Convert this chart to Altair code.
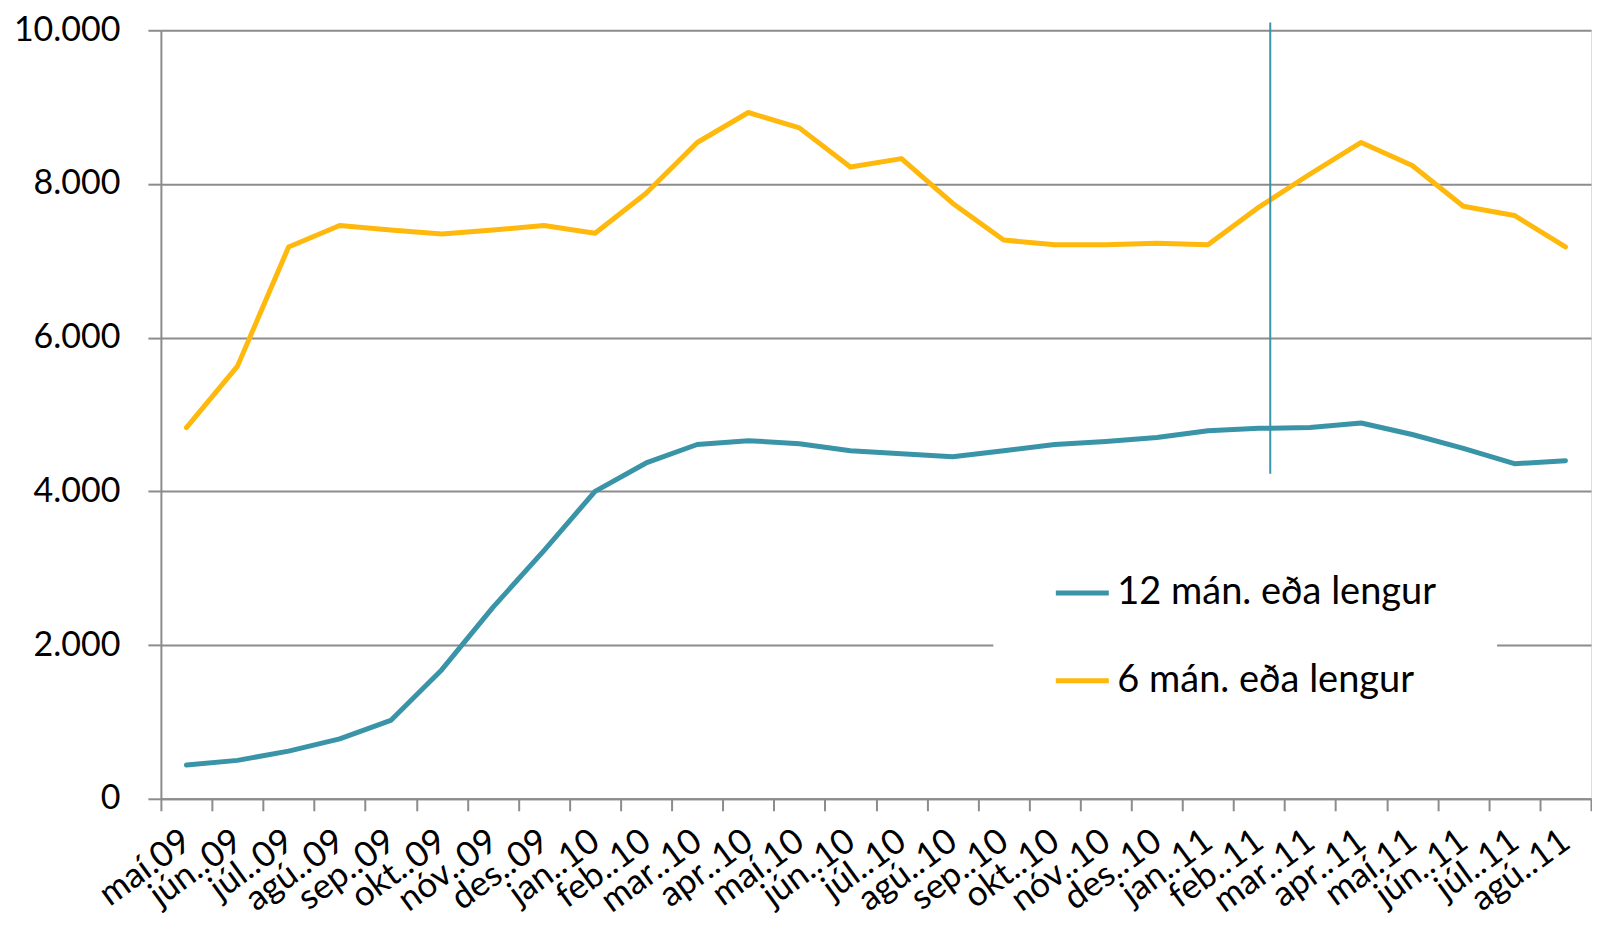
import altair as alt
import pandas as pd

months = ["maí.09", "jún..09", "júl..09", "agú..09", "sep..09", "okt..09", "nóv..09",
          "des..09", "jan..10", "feb..10", "mar..10", "apr..10", "maí.10", "jún..10",
          "júl..10", "agú..10", "sep..10", "okt..10", "nóv..10", "des..10", "jan..11",
          "feb..11", "mar..11", "apr..11", "maí.11", "jún..11", "júl..11", "agú..11"]

series_12 = [440, 500, 620, 780, 1020, 1680, 2490, 3230, 4000, 4370, 4610, 4660, 4620,
             4530, 4490, 4450, 4530, 4610, 4650, 4700, 4790, 4820, 4830, 4890, 4740,
             4560, 4360, 4400]
series_6 = [4830, 5630, 7180, 7460, 7400, 7350, 7400, 7460, 7360, 7880, 8540, 8930, 8730,
            8220, 8330, 7750, 7270, 7210, 7210, 7230, 7210, 7700, 8130, 8540, 8240,
            7710, 7590, 7180]

names = ["12 mán. eða lengur", "6 mán. eða lengur"]
colors = ["#3A94A8", "#FFB80C"]

marker_month = ["feb..11"]
marker_low = [4230]
marker_high = [10100]

y_ticks = [0, 2000, 4000, 6000, 8000, 10000]

df = pd.DataFrame({
    "m": months + months,
    "v": series_12 + series_6,
    "s": [names[0]] * len(months) + [names[1]] * len(months),
})
df_rule = pd.DataFrame({"m": marker_month, "lo": marker_low, "hi": marker_high})

GRAY = "#8c8c8c"
FONT = "Lato"

x_scale = alt.Scale(type="band", domain=months, paddingInner=0, paddingOuter=0)
x_axis = alt.Axis(title=None, labelAngle=-36, labelFontSize=35, labelFont=FONT,
                  labelColor="black", labelPadding=26, tickBand="extent", tickSize=12,
                  tickColor=GRAY, tickWidth=2, domainColor=GRAY, domainWidth=2,
                  grid=False, labelAlign="right", labelBaseline="middle",
                  labelOverlap=False, labelBound=False)
y_scale = alt.Scale(domain=[0, 10000], nice=False)
y_axis = alt.Axis(title=None, values=y_ticks,
                  labelExpr="replace(format(datum.value, ','), ',', '.')",
                  labelFontSize=34, labelFont=FONT, labelColor="black", labelPadding=28,
                  tickSize=13, tickColor=GRAY, tickWidth=2, domainColor=GRAY,
                  domainWidth=2, grid=True, gridColor=GRAY, gridWidth=2)

lines = alt.Chart(df).mark_line(strokeWidth=5, strokeCap="round", strokeJoin="round").encode(
    x=alt.X("m:N", scale=x_scale, axis=x_axis, sort=months, bandPosition=0.5),
    y=alt.Y("v:Q", scale=y_scale, axis=y_axis),
    color=alt.Color("s:N", scale=alt.Scale(domain=names, range=colors),
                    legend=alt.Legend(title=None, orient="none", legendX=833, legendY=474,
                                      fillColor="white", padding=60, symbolType="stroke",
                                      symbolSize=2809, symbolStrokeWidth=5,
                                      labelFontSize=38, labelFont=FONT, labelColor="black",
                                      labelOffset=6, rowPadding=40, labelLimit=700)),
)

rule = alt.Chart(df_rule).mark_rule(color=colors[0], strokeWidth=2).encode(
    x=alt.X("m:N", scale=x_scale, sort=months, bandPosition=0.72),
    y=alt.Y("lo:Q", scale=y_scale),
    y2="hi:Q",
)

chart = alt.layer(lines, rule).properties(
    width=1431, height=769,
    autosize=alt.AutoSizeParams(type="none"),
    padding={"left": 153, "top": 22, "right": 1, "bottom": 123},
).configure_view(stroke=None).configure(background="white")

chart.save("out.html", embed_options={"renderer": "svg", "actions": False})
